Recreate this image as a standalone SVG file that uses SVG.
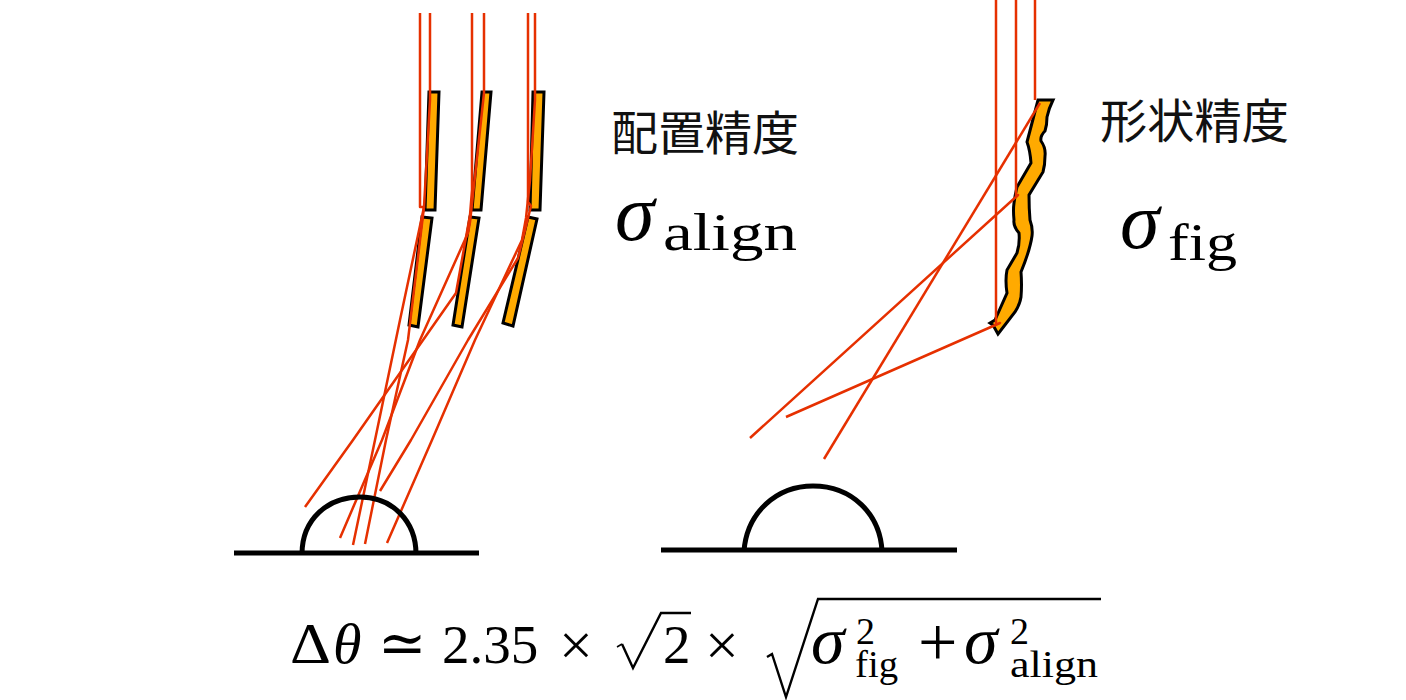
<svg xmlns="http://www.w3.org/2000/svg" width="1406" height="700" viewBox="0 0 1406 700">
<style>
.m{fill:#ffaa00;stroke:#000;stroke-width:3;stroke-linejoin:miter}
.r{fill:none;stroke:#e63000;stroke-width:2.5;stroke-linejoin:round}
.k{fill:none;stroke:#000;stroke-width:5}
.t{font-family:"Liberation Serif","DejaVu Serif",serif;fill:#000}
.i{font-style:italic}
.c{font-family:"Noto Sans CJK JP","Liberation Sans",sans-serif;font-size:47px;fill:#111}
</style>
<rect width="1406" height="700" fill="#fff"/>
<g id="mirrors-align">
<polygon class="m" points="429,92 439,92 435,210 425,210"/>
<polygon class="m" points="482,92 491,92 481,210 472,210"/>
<polygon class="m" points="533,92 544,92 540,210 530,210"/>
<polygon class="m" points="422,217 432,218 418,327 409,325"/>
<polygon class="m" points="470,217 479,218 462,327 453,325"/>
<polygon class="m" points="528,217 537,219 513,326 503,323"/>
</g>
<g id="mirror-fig">
<path class="m" d="M1038,100 L1053,100 Q1049,108 1047,117 Q1047,125 1045,131 Q1040,136 1041,141 Q1046,148 1045,156 Q1045,165 1043,172 L1029,195 Q1029,208 1030,220 Q1033,228 1032,236 Q1030,250 1021,272 Q1022,285 1021,297 Q1020,304 1015,312 L998,334 L993,325 L990,323 L995,320 L1007,293 Q1005,280 1007,270 L1017,253 Q1020,243 1019,233 Q1013,226 1014,220 Q1013,210 1014,203 Q1015,195 1017,187 L1031,163 Q1030,150 1027,142 Z"/>
</g>
<g id="connectors">
<polyline class="r" points="420,13 420,207 424,207 400,320 375,440 353,545"/>
<polyline class="r" points="430,13 430,100 424,207 408,340 386,440 365,544"/>
<polyline class="r" points="472,13 472,190 470,215 456,293 353,440 305,507"/>
<polyline class="r" points="484,13 484,93 470,222 468,233 420,340 382,440 340,538"/>
<polyline class="r" points="528,13 528,202 531,206 518,258 468,340 411,440 380,491"/>
<polyline class="r" points="535,13 535,100 530,180 526,218 522,240 475,340 432,440 387,543"/>
<polyline class="r" points="996,0 996,325 1000,323 786,417"/>
<polyline class="r" points="1016,0 1016,197 1018,195 750,438"/>
<polyline class="r" points="1035,0 1035,100"/>
<line class="r" x1="1040" y1="103" x2="824" y2="459"/>
</g>
<g id="dome-left">
<line class="k" x1="234" y1="553" x2="479" y2="553"/>
<path class="k" d="M302,554 C302,519 328,497 360,497 C392,497 416,521 416,554"/>
</g>
<g id="dome-right">
<line class="k" x1="661" y1="550" x2="957" y2="550"/>
<path class="k" d="M744,551 C747,512 777,486 813,486 C852,486 880,514 882,551"/>
</g>
<g id="label-align">
<text class="c" x="611" y="150" textLength="188" lengthAdjust="spacingAndGlyphs">配置精度</text>
<text class="t i" x="615" y="240" font-size="80">σ</text>
<text class="t" x="663" y="250" font-size="52" textLength="134" lengthAdjust="spacingAndGlyphs">align</text>
</g>
<g id="label-fig">
<text class="c" x="1100" y="138" textLength="189" lengthAdjust="spacingAndGlyphs">形状精度</text>
<text class="t i" x="1120" y="248" font-size="80">σ</text>
<text class="t" x="1168" y="260" font-size="52" textLength="69" lengthAdjust="spacingAndGlyphs">fig</text>
</g>
<g id="formula">
<text class="t" x="290" y="663" font-size="58" textLength="41" lengthAdjust="spacingAndGlyphs">Δ</text>
<text class="t i" x="333" y="663" font-size="58">θ</text>
<text class="t" x="378" y="663" font-size="58">≃</text>
<text class="t" x="442" y="663" font-size="55">2.35</text>
<text class="t" x="559" y="665" font-size="60">×</text>
<line x1="617" y1="647" x2="622" y2="644" stroke="#000" stroke-width="1.5"/>
<path d="M622,644 L633,668 L661,613 L691,613" fill="none" stroke="#000" stroke-width="2.4"/>
<text class="t" x="663" y="663" font-size="55">2</text>
<text class="t" x="705" y="665" font-size="60">×</text>
<path d="M767,657 L772,654 L786,697 L818,599 L1101,599" fill="none" stroke="#000" stroke-width="2.4"/>
<text class="t i" x="811" y="663" font-size="68">σ</text>
<text class="t" x="856" y="644" font-size="38">2</text>
<text class="t" x="855" y="677" font-size="38" textLength="43" lengthAdjust="spacingAndGlyphs">fig</text>
<text class="t" x="918" y="666" font-size="70">+</text>
<text class="t i" x="964" y="663" font-size="68">σ</text>
<text class="t" x="1010" y="644" font-size="38">2</text>
<text class="t" x="1010" y="677" font-size="38" textLength="88" lengthAdjust="spacingAndGlyphs">align</text>
</g>
</svg>
